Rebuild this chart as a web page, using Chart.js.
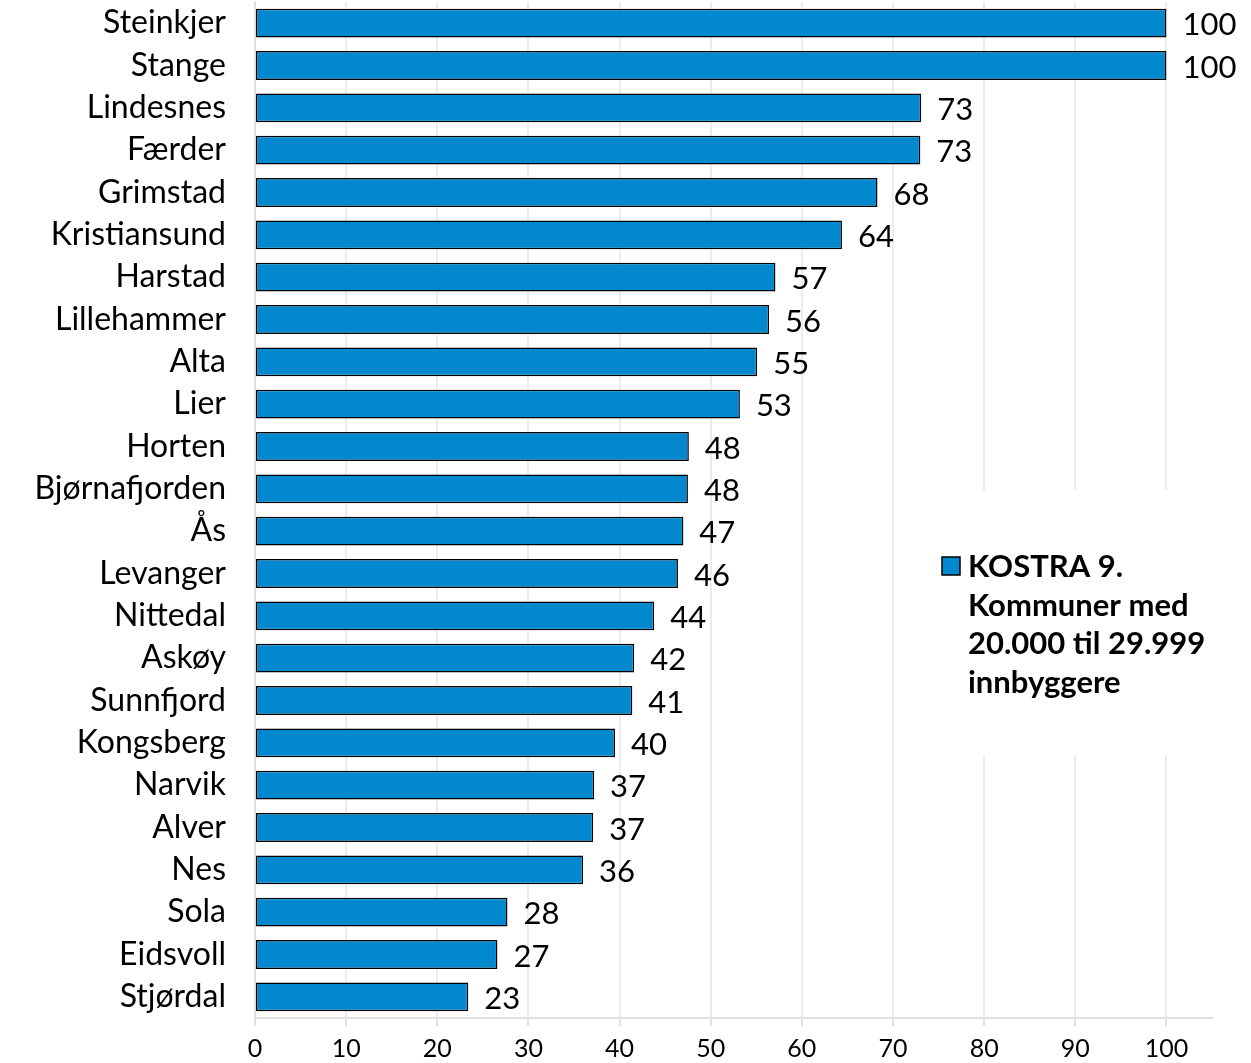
<!DOCTYPE html>
<html>
<head>
<meta charset="utf-8">
<script src="https://cdn.jsdelivr.net/npm/chart.js@4.4.1/dist/chart.umd.min.js"></script>
<style>
  html, body { margin: 0; padding: 0; background: #fff; }
  #wrap { position: relative; width: 1251px; height: 1063px; }
</style>
</head>
<body>
<div id="wrap"><canvas id="chart"></canvas></div>
<script>
// Data
const kommuner = [
  'Steinkjer', 'Stange', 'Lindesnes', 'Færder', 'Grimstad', 'Kristiansund',
  'Harstad', 'Lillehammer', 'Alta', 'Lier', 'Horten', 'Bjørnafjorden',
  'Ås', 'Levanger', 'Nittedal', 'Askøy', 'Sunnfjord', 'Kongsberg',
  'Narvik', 'Alver', 'Nes', 'Sola', 'Eidsvoll', 'Stjørdal'
];
const verdier = [
  100, 100, 73.1, 73.0, 68.3, 64.4,
  57.1, 56.4, 55.1, 53.2, 47.6, 47.5,
  47.0, 46.4, 43.8, 41.6, 41.4, 39.5,
  37.2, 37.1, 36.0, 27.7, 26.6, 23.4
];
const xTicks = [0, 10, 20, 30, 40, 50, 60, 70, 80, 90, 100];
const serieNavn = 'KOSTRA 9. Kommuner med 20.000 til 29.999 innbyggere';
const legendLinjer = ['KOSTRA 9.', 'Kommuner med', '20.000 til 29.999', 'innbyggere'];

const barColor = '#0288CE';
const fontFamily = 'Lato, "Open Sans", sans-serif';

// Value labels to the right of each bar
const valueLabels = {
  id: 'valueLabels',
  afterDatasetsDraw(chart) {
    const ctx = chart.ctx;
    const meta = chart.getDatasetMeta(0);
    ctx.save();
    ctx.font = '31px ' + fontFamily;
    ctx.fillStyle = '#000';
    ctx.textAlign = 'left';
    ctx.textBaseline = 'middle';
    meta.data.forEach((bar, i) => {
      ctx.fillText(Math.round(verdier[i]), bar.x + 16, bar.y + 2);
    });
    ctx.restore();
  }
};

// Legend box sitting inside the plot area
const legendBox = {
  id: 'legendBox',
  afterDraw(chart) {
    const ctx = chart.ctx;
    ctx.save();
    ctx.fillStyle = '#fff';
    ctx.fillRect(930, 490, 315, 265);
    ctx.fillStyle = barColor;
    ctx.fillRect(942, 557, 18, 18);
    ctx.strokeStyle = '#000';
    ctx.lineWidth = 1.5;
    ctx.strokeRect(942, 557, 18, 18);
    ctx.fillStyle = '#000';
    ctx.font = 'bold 31px ' + fontFamily;
    ctx.textAlign = 'left';
    ctx.textBaseline = 'middle';
    legendLinjer.forEach((line, i) => {
      ctx.fillText(line, 968, 567 + i * 38.6);
    });
    ctx.restore();
  }
};

new Chart(document.getElementById('chart'), {
  type: 'bar',
  data: {
    labels: kommuner,
    datasets: [{
      label: serieNavn,
      data: verdier,
      backgroundColor: barColor,
      borderColor: '#000',
      borderWidth: 1.5,
      borderSkipped: false,
      categoryPercentage: 0.68,
      barPercentage: 1.0
    }]
  },
  options: {
    indexAxis: 'y',
    responsive: true,
    maintainAspectRatio: false,
    animation: false,
    layout: { padding: { top: 2, right: 39, left: 0, bottom: 0 } },
    scales: {
      x: {
        min: 0,
        max: 105,
        afterBuildTicks: axis => { axis.ticks = xTicks.map(v => ({ value: v })); },
        afterFit: axis => { axis.height = 45; axis.paddingLeft = 0; axis.paddingRight = 0; },
        ticks: {
          color: '#000',
          padding: 8,
          font: { family: fontFamily, size: 25 }
        },
        grid: { color: '#ececec', lineWidth: 2, tickLength: 8, tickColor: '#e0e0e0' },
        border: { color: '#e0e0e0', width: 2 }
      },
      y: {
        afterFit: axis => { axis.width = 255; axis.paddingTop = 0; axis.paddingBottom = 0; },
        ticks: {
          color: '#000',
          padding: 21,
          font: { family: fontFamily, size: 32 }
        },
        grid: { display: false },
        border: { color: '#e0e0e0', width: 2 }
      }
    },
    plugins: {
      legend: { display: false },
      tooltip: { enabled: false }
    }
  },
  plugins: [valueLabels, legendBox]
});
</script>
</body>
</html>
